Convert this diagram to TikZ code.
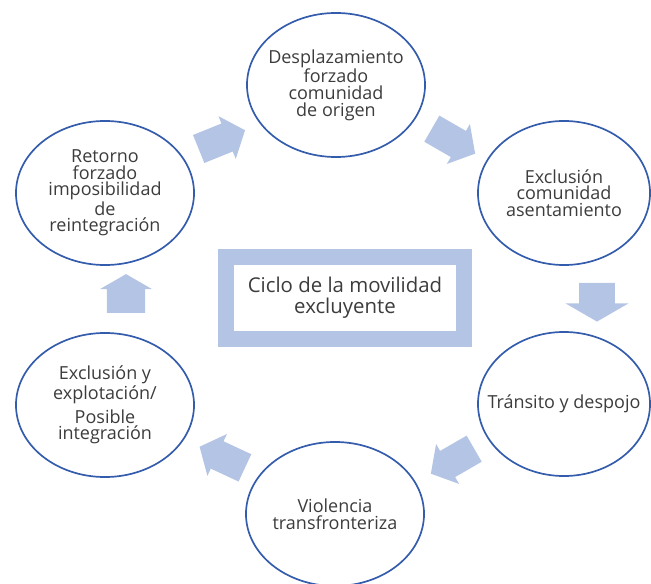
\documentclass[tikz,border=0pt]{standalone}
\usepackage{fontspec}
\setmainfont{Open Sans}
\usetikzlibrary{shapes.geometric,shapes.arrows}
\definecolor{ringblue}{RGB}{52,92,172}
\definecolor{flowblue}{RGB}{180,196,228}
\definecolor{textgray}{RGB}{60,60,60}

\begin{document}
\begin{tikzpicture}[x=0.025cm,y=-0.025cm,
  stage/.style={draw=ringblue, line width=1.2pt, ellipse, minimum width=4.45cm, minimum height=3.6cm,
    inner xsep=-1.6cm, inner ysep=-0.9cm, align=center, text=textgray, font=\fontsize{12.8}{11.8}\selectfont},
  flow/.style={single arrow, fill=flowblue, draw=none, inner xsep=0pt, inner ysep=0.37cm, minimum height=1.25cm,
    single arrow head extend=0.2cm, single arrow tip angle=100},
  bigflow/.style={flow, minimum height=0.97cm, inner ysep=0.44cm, single arrow head extend=0.34cm,
    single arrow tip angle=120}]
\useasboundingbox (0,0) rectangle (651,584);
\node (desp) at (336,85) [stage] {Desplazamiento\\forzado\\comunidad\\de origen};
\node (excl) at (564,193) [stage, minimum width=4.3cm] {Exclusión\\comunidad\\asentamiento};
\node (tran) at (564,404) [stage, minimum width=4.3cm] {Tránsito y despojo};
\node (viol) at (335,514) [stage] {Violencia\\transfronteriza};
\node (expl) at (105,405) [stage] {Exclusión y\\explotación/\\[3pt]Posible\\integración};
\node (reto) at (105,193) [stage] {Retorno\\forzado\\imposibilidad\\de\\reintegración};
\node (ciclo) at (345,298) [draw=flowblue, line width=12pt, minimum width=5.95cm, minimum height=2.05cm,
  align=center, text=textgray, font=\fontsize{14.5}{15}\selectfont] {Ciclo de la movilidad\\excluyente};
\node (f1) at (216,142) [flow, rotate=22] {};
\node (f2) at (448,138) [flow, rotate=-30] {};
\node (f3) at (597,297) [bigflow, rotate=-90] {};
\node (f4) at (458,458) [flow, rotate=210] {};
\node (f5) at (228,460) [flow, rotate=155] {};
\node (f6) at (126,299) [bigflow, rotate=90, inner ysep=0.47cm, single arrow head extend=0.17cm] {};
\end{tikzpicture}
\end{document}
